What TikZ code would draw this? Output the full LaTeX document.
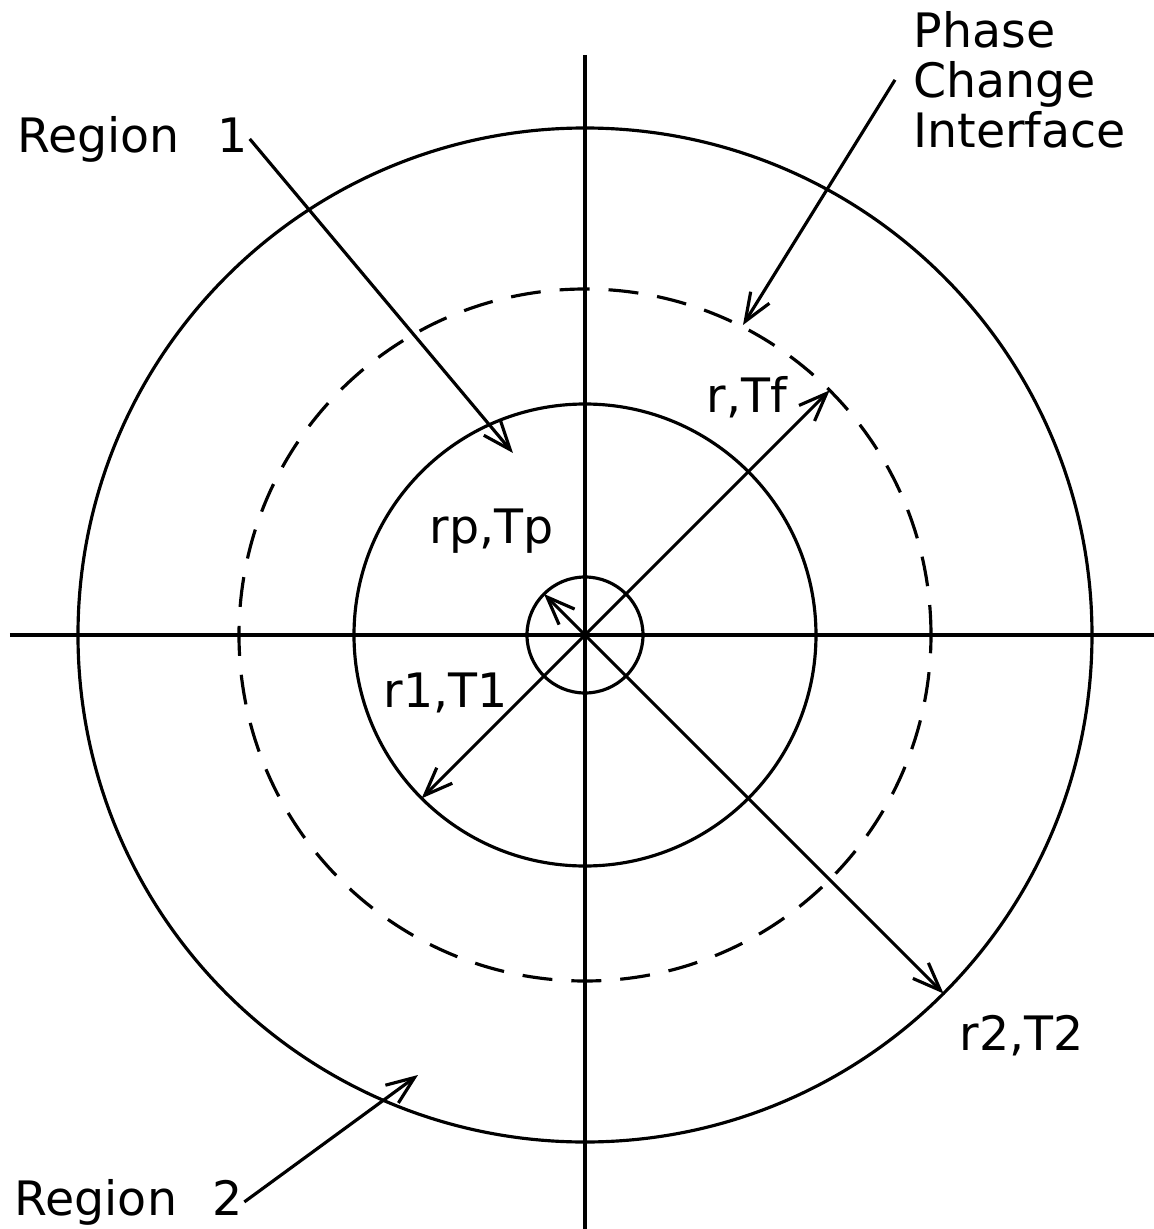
\documentclass[tikz,border=0pt]{standalone}
\usepackage{fontspec}
\setmainfont{DejaVu Sans}
\usetikzlibrary{arrows.meta,calc,positioning}

\begin{document}
\begin{tikzpicture}[line width=0.9pt,
  every node/.style={font=\fontsize{13.5}{14.2}\selectfont,inner sep=0pt},
  barb/.style={-{Straight Barb[length=2.8mm,width=2.2mm]}}]
  \useasboundingbox (-5.85,-5.94) rectangle (5.69,6.35);
  \coordinate (O) at (0,0);
  \draw (-5.75,0)--(5.69,0);
  \draw (0,5.80)--(0,-5.94);
  \draw (O) circle (5.07);
  \draw[dash pattern=on 0.3cm off 0.19cm] (O) circle (3.46);
  \draw (O) circle (2.31);
  \draw (O) circle (0.58);
  \draw[barb] (O)--(45:3.46);
  \draw[barb] (O)--(225:2.31);
  \draw[barb] (O)--(135:0.58);
  \draw[barb] (O)--(-45:5.07);
  \node[anchor=base west] (rp) at (-1.57,0.92){rp,Tp};
  \node[anchor=base west] (r1) at (-2.03,-0.72){r1,T1};
  \node[anchor=base west] (rf) at (1.20,2.23){r,Tf};
  \node[anchor=base west] (r2) at (3.73,-4.15){r2,T2};
  \node[anchor=base west] (reg1) at (-5.69,4.83){Region\hspace{0.8em}1};
  \node[anchor=base west] (reg2) at (-5.72,-5.80){Region\hspace{0.75em}2};
  \node[anchor=north west,align=left,inner xsep=0.17cm] (pci) at (3.10,6.25){Phase\\Change\\Interface};
  \coordinate (reg1tip) at (-0.72,1.82);
  \coordinate (pcitip) at (1.58,3.10);
  \coordinate (reg2tip) at (-1.67,-4.40);
  \draw[barb] (reg1.east)--(reg1tip);
  \draw[barb] (pci.west)--(pcitip);
  \draw[barb] (reg2.east)--(reg2tip);
\end{tikzpicture}
\end{document}
